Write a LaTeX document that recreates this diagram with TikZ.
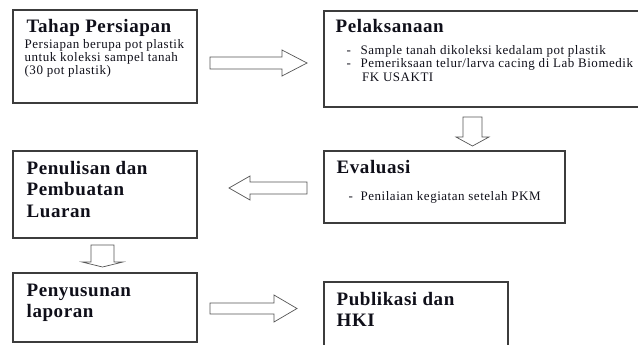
\documentclass[tikz,border=0pt]{standalone}
\usepackage{fontspec}
\setmainfont{Liberation Serif}
\usepackage{xcolor}
\usetikzlibrary{positioning}
\definecolor{box-line}{RGB}{60,60,60}
\definecolor{arrow-line}{RGB}{85,85,85}
\definecolor{ink}{RGB}{15,15,25}
\newcommand{\headfont}{\fontsize{19}{21.5}\selectfont\bfseries\addfontfeatures{LetterSpace=3}}
\newcommand{\bodyfont}{\fontsize{13}{12.7}\selectfont\addfontfeatures{LetterSpace=4}}

\begin{document}
\begin{tikzpicture}[x=1pt, y=-1pt,
            box/.style={draw=box-line, line width=1.1pt, inner sep=0pt,
                        minimum width=184pt},
            heading/.style={anchor=base west, inner sep=0pt, font=\headfont, text=ink},
            body/.style={anchor=base west, inner sep=0pt, font=\bodyfont, text=ink},
            blockarrow/.style={draw=arrow-line, line width=0.7pt, fill=white}]
          \useasboundingbox (0,0) rectangle (638,345);
          \clip (0,0) rectangle (638,345);
          \node[box, minimum height=93pt] (persiapan) at (105,56.5) {};
          \node[box, minimum width=336pt, minimum height=96pt] (pelaksanaan) at (492,59) {};
          \node[box, minimum width=241pt, minimum height=72pt] (evaluasi) at (444.5,187) {};
          \node[box, minimum height=87pt] (penulisan) at (105,194.5) {};
          \node[box, minimum height=69pt] (penyusunan) at (105,307.5) {};
          \node[box, minimum height=90pt] (publikasi) at (416,327) {};
          \node[heading] (persiapan-t) at ([shift={(14,23)}]persiapan.north west)
                {Tahap Persiapan};
          \node[body] (persiapan-b) at ([shift={(12,39)}]persiapan.north west)
                {\begin{tabular}[t]{@{}l@{}}Persiapan berupa pot plastik\\
                 untuk koleksi sampel tanah\\ (30 pot plastik)\end{tabular}};
          \node[heading] (pelaksanaan-t) at ([shift={(12,22)}]pelaksanaan.north west)
                {Pelaksanaan};
          \node[body] (pelaksanaan-b) at ([shift={(23,44)}]pelaksanaan.north west)
                {\begin{tabular}[t]{@{}p{14pt}@{}l@{}}-&Sample tanah dikoleksi kedalam pot plastik\\[0.6pt]
                 -&Pemeriksaan telur/larva cacing di Lab Biomedik\\[0.6pt]
                 &\hspace{1.5pt}FK USAKTI\end{tabular}};
          \node[heading] (evaluasi-t) at ([shift={(13,23)}]evaluasi.north west)
                {Evaluasi};
          \node[body] (evaluasi-b) at ([shift={(25,50)}]evaluasi.north west)
                {\begin{tabular}[t]{@{}p{12pt}@{}l@{}}-&Penilaian kegiatan setelah PKM\end{tabular}};
          \node[heading] (penulisan-t) at ([shift={(14,24)}]penulisan.north west)
                {\begin{tabular}[t]{@{}l@{}}Penulisan dan\\ Pembuatan\\ Luaran\end{tabular}};
          \node[heading] (penyusunan-t) at ([shift={(14,24)}]penyusunan.north west)
                {\begin{tabular}[t]{@{}l@{}}Penyusunan\\ laporan\end{tabular}};
          \node[heading] (publikasi-t) at ([shift={(13,24)}]publikasi.north west)
                {\begin{tabular}[t]{@{}l@{}}Publikasi dan\\ HKI\end{tabular}};
          \draw[blockarrow] (210,57) -- (282,57) -- (282,50) -- (307,63)
                -- (282,76) -- (282,69) -- (210,69) -- cycle;
          \draw[blockarrow] (463,117) -- (482,117) -- (482,137) -- (489,137)
                -- (472.5,146) -- (456,137) -- (463,137) -- cycle;
          \draw[blockarrow] (307,182) -- (250,182) -- (250,176) -- (229,188)
                -- (250,200) -- (250,194) -- (307,194) -- cycle;
          \draw[blockarrow] (91,245) -- (114,245) -- (114,262) -- (123,262)
                -- (102.5,267) -- (82,262) -- (91,262) -- cycle;
          \draw[blockarrow] (210,303) -- (274,303) -- (274,295) -- (297,308.5)
                -- (274,322) -- (274,314) -- (210,314) -- cycle;
        \end{tikzpicture}
\end{document}
